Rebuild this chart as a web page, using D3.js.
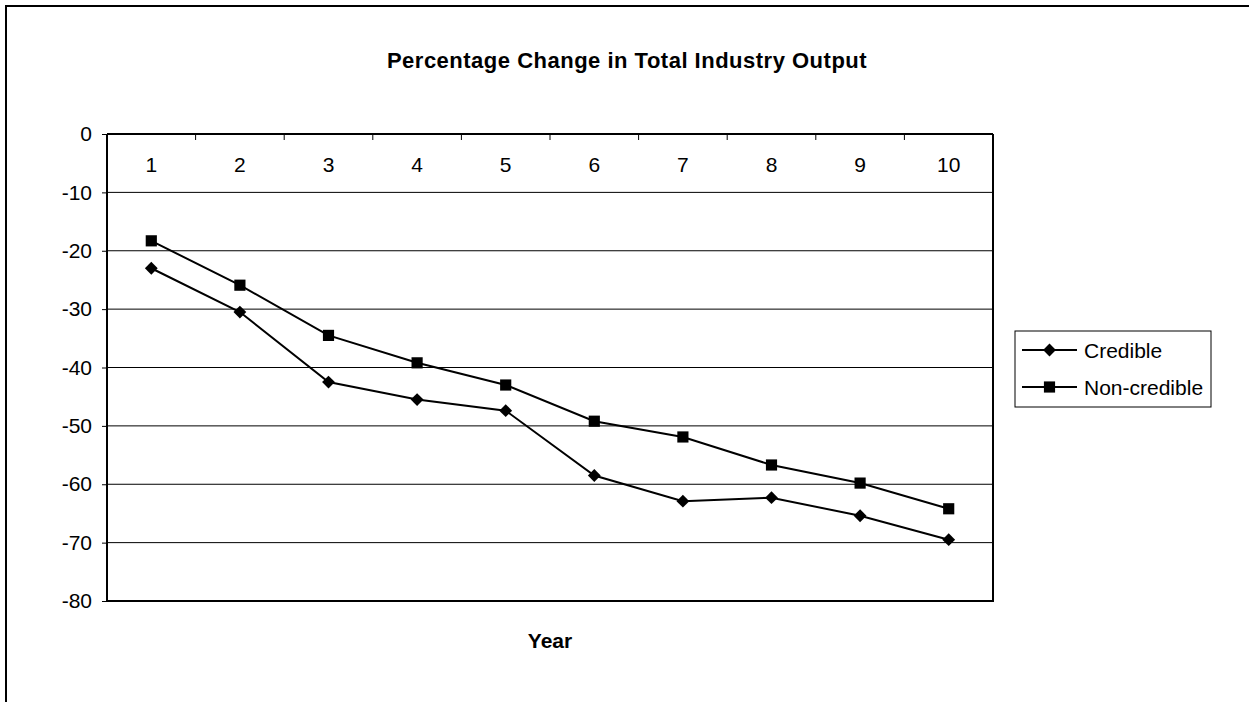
<!DOCTYPE html>
<html>
<head>
<meta charset="utf-8">
<script src="https://cdn.jsdelivr.net/npm/d3@7"></script>
<style>
  body { margin: 0; background: #fff; }
  text { font-family: "Liberation Sans", Arial, sans-serif; fill: #000; }
</style>
</head>
<body>
<div id="chart"></div>
<script>
// data
var years = ["1", "2", "3", "4", "5", "6", "7", "8", "9", "10"];
var credible = [-23.0, -30.5, -42.5, -45.5, -47.4, -58.5, -62.9, -62.3, -65.4, -69.5];
var nonCredible = [-18.3, -25.9, -34.5, -39.2, -43.0, -49.2, -51.9, -56.7, -59.8, -64.2];
var yTicks = [0, -10, -20, -30, -40, -50, -60, -70, -80];

var svgWidth = 1249;
var svgHeight = 702;

var margin = { top: 134, right: 256, bottom: 101, left: 107 };
var width = svgWidth - margin.left - margin.right;
var height = svgHeight - margin.top - margin.bottom;

var svg = d3.select("#chart")
  .append("svg")
  .attr("width", svgWidth)
  .attr("height", svgHeight);

// outer chart border (runs off right and bottom)
svg.append("rect")
  .attr("x", 6).attr("y", 6)
  .attr("width", svgWidth + 10).attr("height", svgHeight + 10)
  .attr("fill", "none").attr("stroke", "#000").attr("stroke-width", 2);

var chartGroup = svg.append("g")
  .attr("transform", `translate(${margin.left}, ${margin.top})`);

var xScale = d3.scaleBand().domain(years).range([0, width]);
var yScale = d3.scaleLinear().domain([0, -80]).range([0, height]);

// gridlines
chartGroup.selectAll("line.grid")
  .data(yTicks.filter(d => d !== 0 && d !== -80))
  .enter()
  .append("line")
  .attr("class", "grid")
  .attr("x1", 0).attr("x2", width)
  .attr("y1", d => yScale(d)).attr("y2", d => yScale(d))
  .attr("stroke", "#000").attr("stroke-width", 1);

// plot frame: right and bottom
chartGroup.append("path")
  .attr("d", `M${width},0 V${height} H0`)
  .attr("fill", "none").attr("stroke", "#000").attr("stroke-width", 2);

// y axis
var leftAxis = d3.axisLeft(yScale).tickValues(yTicks).tickSize(5).tickPadding(10)
  .tickFormat(d => String(d));
var yAxis = chartGroup.append("g").call(leftAxis);
yAxis.select(".domain").attr("stroke-width", 2).attr("d", `M0,0V${height}`);
yAxis.selectAll(".tick line").attr("stroke-width", 1);
yAxis.selectAll("text").style("font-size", "21px").attr("font-family", null);

// x axis along the top (zero line), labels below it
var topAxis = d3.axisBottom(xScale).tickSize(0).tickPadding(23);
var xAxis = chartGroup.append("g").call(topAxis);
xAxis.select(".domain").attr("stroke-width", 2).attr("d", `M0,0H${width}`);
xAxis.selectAll("text").style("font-size", "21px").attr("font-family", null);

// category boundary ticks
chartGroup.selectAll("line.xtick")
  .data(years.slice(1))
  .enter()
  .append("line")
  .attr("class", "xtick")
  .attr("x1", d => xScale(d)).attr("x2", d => xScale(d))
  .attr("y1", 0).attr("y2", 6)
  .attr("stroke", "#000").attr("stroke-width", 1);

// lines
var line = d3.line()
  .x((d, i) => xScale(years[i]) + xScale.bandwidth() / 2)
  .y(d => yScale(d));

var series = [
  { name: "Credible", values: credible, symbol: d3.symbolDiamond2, size: 105 },
  { name: "Non-credible", values: nonCredible, symbol: d3.symbolSquare, size: 125 }
];

series.forEach(function(s) {
  chartGroup.append("path")
    .datum(s.values)
    .attr("d", line)
    .attr("fill", "none")
    .attr("stroke", "#000")
    .attr("stroke-width", 2);

  chartGroup.selectAll(null)
    .data(s.values)
    .enter()
    .append("path")
    .attr("d", d3.symbol().type(s.symbol).size(s.size))
    .attr("transform", (d, i) =>
      `translate(${xScale(years[i]) + xScale.bandwidth() / 2}, ${yScale(d)})`)
    .attr("fill", "#000");
});

// title
svg.append("text")
  .attr("x", 627)
  .attr("y", 68)
  .attr("text-anchor", "middle")
  .style("font-size", "22px")
  .style("letter-spacing", "0.5px")
  .style("font-weight", "bold")
  .text("Percentage Change in Total Industry Output");

// x axis label
svg.append("text")
  .attr("x", 550)
  .attr("y", 648)
  .attr("text-anchor", "middle")
  .style("font-size", "21px")
  .style("font-weight", "bold")
  .text("Year");

// legend
var legend = svg.append("g").attr("transform", "translate(1015, 331)");
legend.append("rect")
  .attr("width", 196).attr("height", 76)
  .attr("fill", "#fff").attr("stroke", "#000").attr("stroke-width", 1);

series.forEach(function(s, i) {
  var yRow = 19 + i * 37;
  legend.append("line")
    .attr("x1", 7).attr("x2", 62)
    .attr("y1", yRow).attr("y2", yRow)
    .attr("stroke", "#000").attr("stroke-width", 2);
  legend.append("path")
    .attr("d", d3.symbol().type(s.symbol).size(s.size))
    .attr("transform", `translate(34.5, ${yRow})`)
    .attr("fill", "#000");
  legend.append("text")
    .attr("x", 69)
    .attr("y", yRow + 7.5)
    .style("font-size", "21px")
    .text(s.name);
});
</script>
</body>
</html>
